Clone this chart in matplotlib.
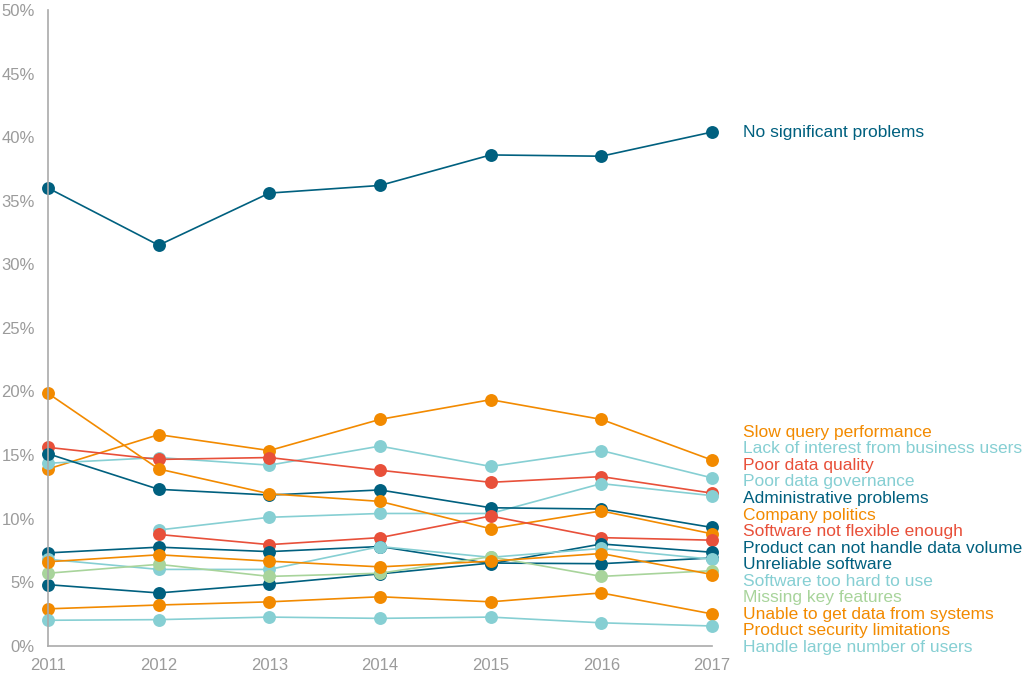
import numpy as np
import matplotlib
matplotlib.use("Agg")
import matplotlib.pyplot as plt
from matplotlib.ticker import FixedLocator

plt.rcParams['font.family'] = ['Liberation Sans', 'DejaVu Sans']

years = [2011, 2012, 2013, 2014, 2015, 2016, 2017]
nan = np.nan

series_names = [
    "No significant problems",
    "Slow query performance",
    "Lack of interest from business users",
    "Poor data quality",
    "Poor data governance",
    "Administrative problems",
    "Company politics",
    "Software not flexible enough",
    "Product can not handle data volume",
    "Unreliable software",
    "Software too hard to use",
    "Missing key features",
    "Unable to get data from systems",
    "Product security limitations",
    "Handle large number of users",
]

no_significant_problems = [36.0, 31.5, 35.6, 36.2, 38.6, 38.5, 40.4]
slow_query_performance = [13.9, 16.6, 15.35, 17.8, 19.35, 17.8, 14.6]
lack_of_interest = [14.35, 14.8, 14.2, 15.7, 14.1, 15.35, 13.2]
poor_data_quality = [15.6, 14.65, 14.8, 13.8, 12.85, 13.3, 12.0]
poor_data_governance = [nan, 9.1, 10.1, 10.4, 10.4, 12.75, 11.8]
administrative_problems = [15.1, 12.3, 11.85, 12.25, 10.85, 10.75, 9.3]
company_politics = [19.85, 13.9, 11.95, 11.35, 9.2, 10.6, 8.8]
software_not_flexible = [nan, 8.75, 7.95, 8.5, 10.2, 8.5, 8.3]
product_data_volume = [7.3, 7.75, 7.4, 7.8, 6.45, 8.0, 7.35]
unreliable_software = [4.8, 4.15, 4.85, 5.65, 6.5, 6.45, 6.9]
software_too_hard = [6.8, 6.0, 6.0, 7.8, 6.95, 7.65, 6.8]
missing_key_features = [5.7, 6.4, 5.45, 5.7, 7.0, 5.45, 5.9]
unable_to_get_data = [6.6, 7.15, 6.65, 6.2, 6.65, 7.25, 5.6]
product_security = [2.9, 3.2, 3.45, 3.85, 3.45, 4.15, 2.5]
handle_large_users = [2.0, 2.05, 2.25, 2.15, 2.25, 1.8, 1.55]

DARK = "#00607f"
ORANGE = "#f28a00"
RED = "#e8503a"
LIGHT = "#86cfd3"
GREEN = "#a8d49b"

series_values = [
    no_significant_problems, slow_query_performance, lack_of_interest,
    poor_data_quality, poor_data_governance, administrative_problems,
    company_politics, software_not_flexible, product_data_volume,
    unreliable_software, software_too_hard, missing_key_features,
    unable_to_get_data, product_security, handle_large_users,
]
series_colors = [DARK, ORANGE, LIGHT, RED, LIGHT, DARK, ORANGE, RED, DARK,
                 DARK, LIGHT, GREEN, ORANGE, ORANGE, LIGHT]

W, H = 1024, 678
fig = plt.figure(figsize=(W / 100, H / 100), dpi=100)
left, right = 48 / W, 712 / W
bottom, top = (H - 645.7) / H, (H - 10) / H
ax = fig.add_axes([left, bottom, right - left, top - bottom])

for name, vals, col in zip(series_names, series_values, series_colors):
    ax.plot(years, vals, color=col, lw=1.2, marker='o', markersize=9.3,
            markeredgewidth=0, clip_on=False)

ax.set_xlim(2011, 2017)
ax.set_ylim(0, 50)

grey_axis = "#aaaaaa"
grey_text = "#9b9b9b"
for s in ['top', 'right']:
    ax.spines[s].set_visible(False)
for s in ['left', 'bottom']:
    ax.spines[s].set_color(grey_axis)
    ax.spines[s].set_linewidth(1.2)

ax.set_xticks(years)
ax.set_xticklabels([str(y) for y in years])
yt = list(range(0, 51, 5))
ax.set_yticks(yt)
ax.set_yticklabels([f"{v}%" for v in yt])
ax.tick_params(axis='both', which='major', length=0, labelsize=12,
               labelcolor=grey_text)
ax.tick_params(axis='x', which='major', pad=9)
ax.tick_params(axis='y', which='major', pad=9.5)
ax.xaxis.set_minor_locator(FixedLocator([2011, 2017]))
ax.yaxis.set_minor_locator(FixedLocator([0, 50]))
ax.tick_params(axis='both', which='minor', length=6, width=1.2,
               color=grey_axis)

# labels
ax.annotate(series_names[0], xy=(2017, no_significant_problems[-1]),
            xytext=(22.5, 0), textcoords='offset points', va='center',
            ha='left', fontsize=12.5, color=DARK, annotation_clip=False)

label_top = 16.78
label_step = 1.301
for i, (name, col) in enumerate(zip(series_names[1:], series_colors[1:])):
    ax.annotate(name, xy=(2017, label_top - i * label_step),
                xytext=(22.5, 0), textcoords='offset points', va='center',
                ha='left', fontsize=12.5, color=col, annotation_clip=False)

fig.savefig("out.png", dpi=100)
